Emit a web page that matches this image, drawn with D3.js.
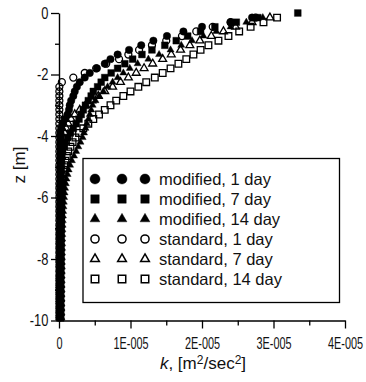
<!DOCTYPE html>
<html><head><meta charset="utf-8">
<script src="https://cdn.jsdelivr.net/npm/d3@7"></script>
<style>
html,body{margin:0;padding:0;background:#fff;}
svg{display:block;font-family:"Liberation Sans",Arial,sans-serif;}
</style></head>
<body>
<svg id="chart" width="366" height="382"></svg>
<script>
// depth levels (m)
const depth = [0,-0.15,-0.3,-0.45,-0.6,-0.75,-0.9,-1.05,-1.2,-1.35,-1.5,-1.65,-1.8,-1.95,-2.1,-2.25,-2.4,-2.55,-2.7,-2.85,-3,-3.15,-3.3,-3.45,-3.6,-3.75,-3.9,-4.05,-4.2,-4.35,-4.5,-4.65,-4.8,-4.95,-5.1,-5.25,-5.4,-5.55,-5.7,-5.85,-6,-6.15,-6.3,-6.45,-6.6,-6.75,-6.9,-7.05,-7.2,-7.35,-7.5,-7.65,-7.8,-7.95,-8.1,-8.25,-8.4,-8.55,-8.7,-8.85,-9,-9.15,-9.3,-9.45,-9.6,-9.75,-9.9];

// k values in units of 1E-005 m2/sec2
const kMod1 = [null,2.70,2.40,2.00,1.74,1.51,1.32,1.15,0.98,0.82,0.72,0.64,0.53,0.43,0.36,0.29,0.25,0.22,0.20,0.17,0.15,0.14,0.12,0.08,0.05,0.03,0.02,
  0.02,0.02,0.02,0.02,0.02,0.02,0.02,0.02,0.02,0.02,
  0.018,0.018,0.018,0.018,0.018,0.018,0.018,0.018,0.018,0.018,
  0.016,0.016,0.016,0.016,0.016,0.016,0.016,0.016,0.016,0.016,
  0.015,0.015,0.015,0.015,0.015,0.015,0.015,0.015,0.015,0.015];
const kMod7 = [3.34,2.78,2.48,2.18,1.98,1.80,1.64,1.48,1.30,1.16,1.03,0.92,0.82,
  0.73,0.64,0.59,0.54,0.48,0.45,0.41,0.37,0.34,0.31,0.28,0.24,0.20,0.16,0.12,0.09,0.07,0.05,0.04,0.035,0.03,
  0.028,0.026,0.025,0.024,0.023,0.022,0.022,0.021,0.02,0.02,
  0.02,0.02,0.02,0.02,0.02,0.02,0.02,0.02,0.02,0.02,
  0.018,0.018,0.018,0.018,0.018,0.018,0.018,0.018,0.018,0.018,0.018,0.018,0.018];
const kMod14 = [null,2.85,2.62,2.40,2.20,2.02,1.86,1.71,1.56,1.40,1.25,1.10,0.99,0.90,0.82,0.75,0.68,0.62,0.56,0.51,0.47,
  0.45,0.43,0.41,0.39,0.37,0.35,0.33,0.30,0.27,0.24,0.21,0.18,0.155,0.135,0.12,0.105,0.095,0.085,0.078,0.072,
  0.067,0.062,0.058,0.055,0.052,0.05,0.048,0.046,0.045,0.044,
  0.043,0.042,0.041,0.04,0.04,0.039,0.038,0.038,0.037,0.037,0.036,0.036,0.035,0.035,0.035,0.034];
const kStd1 = [null,2.75,2.40,2.15,1.92,1.72,1.50,1.30,1.12,0.97,0.84,0.66,0.52,0.36,0.20,0.04,
  0.005,0.005,0.005,0.005,0.005,0.005,0.005,0.005,0.005,0.005,
  0.005,0.005,0.005,0.005,0.005,0.005,0.005,0.005,0.005,0.005,
  0.005,0.005,0.005,0.005,0.005,0.005,0.005,0.005,0.005,0.005,
  0.005,0.005,0.005,0.005,0.005,0.005,0.005,0.005,0.005,0.005,
  0.005,0.005,0.005,0.005,0.005,0.005,0.005,0.005,0.005,0.005,0.005];
const kStd7 = [null,2.95,2.70,2.47,2.30,2.13,1.97,1.83,1.70,1.57,1.45,1.31,1.19,1.08,0.97,0.86,0.75,0.64,0.55,0.46,0.37,0.29,0.22,0.17,0.13,0.10,0.08,0.06,0.05,0.04,0.035,0.03,
  0.025,0.025,0.025,0.025,0.025,
  0.02,0.02,0.02,0.02,0.02,0.02,0.02,0.02,0.02,0.02,
  0.018,0.018,0.018,0.018,0.018,0.018,0.018,0.018,0.018,0.018,
  0.015,0.015,0.015,0.015,0.015,0.015,0.015,0.015,0.015,0.015];
const kStd14 = [null,3.05,2.86,2.68,2.52,2.37,2.23,2.09,1.98,1.88,1.78,1.67,1.56,1.45,1.34,1.22,1.11,1.00,0.90,0.80,0.72,
  0.64,0.56,0.48,0.41,0.34,0.28,0.23,0.19,0.16,0.13,
  0.11,0.09,0.075,0.065,0.055,0.048,0.042,0.037,0.033,0.03,
  0.028,0.026,0.025,0.024,0.023,0.022,0.021,0.02,0.02,0.02,0.02,0.02,0.02,0.02,0.02,
  0.018,0.018,0.018,0.018,0.018,0.018,0.018,0.018,0.018,0.018,0.018];

const seriesNames = ["modified, 1 day","modified, 7 day","modified, 14 day","standard, 1 day","standard, 7 day","standard, 14 day"];
const xTickValues = [0,1,2,3,4];
const xTickLabels = ["0","1E-005","2E-005","3E-005","4E-005"];
const yTickValues = [0,-2,-4,-6,-8,-10];
const yTickLabels = ["0","-2","-4","-6","-8","-10"];

const series = [
  {name: seriesNames[0], k: kMod1, type: d3.symbolCircle, filled: true, size: 44, lsize: 80},
  {name: seriesNames[1], k: kMod7, type: d3.symbolSquare, filled: true, size: 46, lsize: 72},
  {name: seriesNames[2], k: kMod14, type: d3.symbolTriangle, filled: true, size: 22, lsize: 42},
  {name: seriesNames[3], k: kStd1, type: d3.symbolCircle, filled: false, size: 38, lsize: 52},
  {name: seriesNames[4], k: kStd7, type: d3.symbolTriangle, filled: false, size: 27, lsize: 33},
  {name: seriesNames[5], k: kStd14, type: d3.symbolSquare, filled: false, size: 44, lsize: 56}
];

const svg = d3.select("#chart");
const x = d3.scaleLinear().domain([0,4]).range([59,345]);
const y = d3.scaleLinear().domain([-10,0]).range([320.5,13]);

// markers: open series first, filled on top
const drawOrder = [5,4,3,2,1,0];
const plot = svg.append("g");
drawOrder.forEach(si => {
  const s = series[si];
  const pts = depth.map((z,i) => ({z, k: s.k[i]})).filter(d => d.k !== null && d.k !== undefined);
  plot.append("g").selectAll("path").data(pts).join("path")
    .attr("d", d3.symbol().type(s.type).size(s.size))
    .attr("transform", d => `translate(${x(d.k)},${y(d.z)})`)
    .attr("fill", s.filled ? "#000" : "none")
    .attr("stroke", "#000")
    .attr("stroke-width", s.filled ? 0.4 : 1.3);
});

// axes
const axStyle = g => {
  g.select(".domain").attr("stroke","#000").attr("stroke-width",1.4);
  g.selectAll(".tick line").attr("stroke","#000").attr("stroke-width",1.3);
};
const xAxis = svg.append("g").attr("transform","translate(0,320.5)")
  .call(d3.axisBottom(x).tickValues(xTickValues).tickFormat((d,i)=>xTickLabels[i]).tickSize(8).tickSizeOuter(0).tickPadding(8))
  .call(axStyle);
xAxis.selectAll("text").attr("font-size",17).attr("fill","#111").attr("font-family","Liberation Sans, Arial, sans-serif")
  .attr("transform","scale(0.64,1)");
svg.append("g").attr("transform","translate(0,320.5)")
  .call(d3.axisBottom(x).tickValues([0.5,1.5,2.5,3.5]).tickFormat("").tickSize(5).tickSizeOuter(0))
  .call(g=>g.select(".domain").remove())
  .call(g=>g.selectAll(".tick line").attr("stroke","#000").attr("stroke-width",1.3));

const yAxis = svg.append("g").attr("transform","translate(59,0)")
  .call(d3.axisLeft(y).tickValues(yTickValues).tickFormat((d,i)=>yTickLabels[i]).tickSize(8).tickSizeOuter(0).tickPadding(6))
  .call(axStyle);
yAxis.selectAll("text").attr("font-size",17).attr("fill","#111").attr("font-family","Liberation Sans, Arial, sans-serif")
  .attr("transform","scale(0.76,1)");
svg.append("g").attr("transform","translate(59,0)")
  .call(d3.axisLeft(y).tickValues([-1,-3,-5,-7,-9]).tickFormat("").tickSize(4).tickSizeOuter(0))
  .call(g=>g.select(".domain").remove())
  .call(g=>g.selectAll(".tick line").attr("stroke","#000").attr("stroke-width",1.3));

// axis titles
const xt = svg.append("text").attr("x",203).attr("y",369).attr("text-anchor","middle")
  .attr("font-size",17).attr("fill","#111");
xt.append("tspan").attr("font-style","italic").text("k");
xt.append("tspan").text(", [m");
xt.append("tspan").attr("font-size",12).attr("dy",-5).text("2");
xt.append("tspan").attr("dy",5).text("/sec");
xt.append("tspan").attr("font-size",12).attr("dy",-5).text("2");
xt.append("tspan").attr("dy",5).text("]");

svg.append("text").attr("transform","translate(25,165) rotate(-90)").attr("text-anchor","middle")
  .attr("font-size",17).attr("fill","#111").text("z [m]");

// legend
const leg = svg.append("g");
leg.append("rect").attr("x",83).attr("y",158.5).attr("width",256.5).attr("height",144)
  .attr("fill","#fff").attr("stroke","#000").attr("stroke-width",1.3);
const markerX = [95,122,145];
series.forEach((s,i) => {
  const cy = 179 + i*20;
  markerX.forEach(mx => {
    leg.append("path").attr("d", d3.symbol().type(s.type).size(s.lsize)())
      .attr("transform", `translate(${mx},${cy})`)
      .attr("fill", s.filled ? "#000" : "none")
      .attr("stroke","#000").attr("stroke-width", s.filled ? 0.4 : 1.5);
  });
  leg.append("text").attr("x",159).attr("y",cy+6).attr("font-size",16.5).attr("fill","#111").text(s.name);
});
</script>
</body></html>
